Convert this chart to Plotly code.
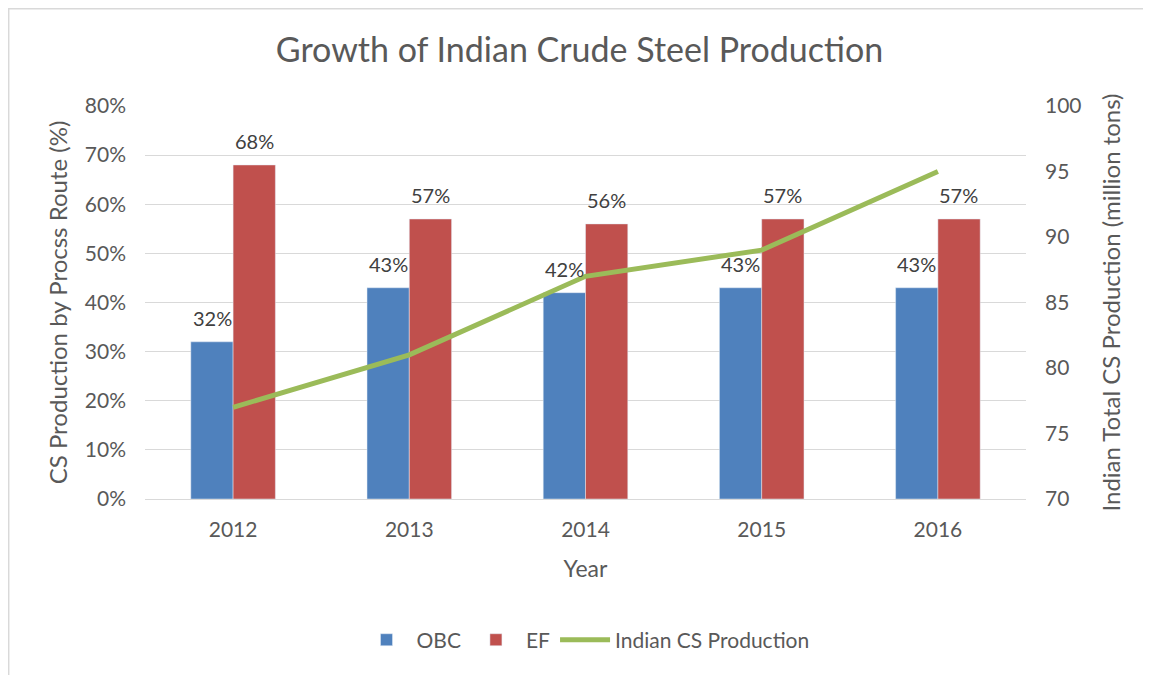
import plotly.graph_objects as go

years = ["2012", "2013", "2014", "2015", "2016"]
obc = [32, 43, 42, 43, 43]
ef = [68, 57, 56, 57, 57]
production = [77, 81, 87, 89, 95]

FONT = "Lato, Open Sans, sans-serif"
GREY = "#595959"

fig = go.Figure()
fig.add_trace(go.Bar(x=years, y=obc, name="OBC", marker=dict(color="#4f81bd"),
                     hoverinfo="skip"))
fig.add_trace(go.Bar(x=years, y=ef, name="EF", marker=dict(color="#c0504d"),
                     hoverinfo="skip"))
fig.add_trace(go.Scatter(x=years, y=production, name="Indian CS Production",
                         mode="lines", line=dict(color="#9bbb59", width=5),
                         yaxis="y2"))

annotations = []
for i, v in enumerate(obc):
    annotations.append(dict(x=i, y=v, xref="x", yref="y", text=f"{v}%", showarrow=False,
                            xshift=-21, yshift=24,
                            font=dict(size=20, color="#404040", family=FONT)))
for i, v in enumerate(ef):
    annotations.append(dict(x=i, y=v, xref="x", yref="y", text=f"{v}%", showarrow=False,
                            xshift=21, yshift=24,
                            font=dict(size=20, color="#404040", family=FONT)))

fig.update_layout(
    width=1143, height=667,
    margin=dict(l=137, r=125, t=98, b=176),
    paper_bgcolor="white", plot_bgcolor="white",
    font=dict(family=FONT, color=GREY),
    title=dict(text="Growth of Indian Crude Steel Production", x=0.5, xanchor="center",
               y=0.937, yanchor="middle", font=dict(size=34, color=GREY, family=FONT)),
    barmode="group", bargap=0.52, bargroupgap=0,
    xaxis=dict(type="category",
               title=dict(text="Year", font=dict(size=23, color=GREY), standoff=20),
               tickfont=dict(size=21, color=GREY), showgrid=False, ticklabelstandoff=12,
               showline=True, linecolor="#d9d9d9", linewidth=1, ticks=""),
    yaxis=dict(title=dict(text="CS Production by Procss Route (%)", font=dict(size=24, color=GREY), standoff=10),
               range=[0, 80], dtick=10, ticksuffix="%", tickfont=dict(size=21, color=GREY),
               ticklabelstandoff=18,
               showgrid=True, gridcolor="#d9d9d9", gridwidth=1, zeroline=False, ticks=""),
    yaxis2=dict(title=dict(text="Indian Total CS Production (million tons)", font=dict(size=24, color=GREY), standoff=22),
                range=[70, 100], dtick=5, overlaying="y", side="right", ticklabelstandoff=18,
                tickfont=dict(size=21, color=GREY), showgrid=False, zeroline=False, ticks=""),
    legend=dict(orientation="h", x=0.5, xanchor="center", y=-0.359, yanchor="middle",
                font=dict(size=21, color=GREY), traceorder="normal", itemwidth=50),
    annotations=annotations,
    shapes=[dict(type="rect", xref="paper", yref="paper", x0=-0.1547, x1=1.1339,
                 y0=-0.48, y1=1.2475, line=dict(color="#d9d9d9", width=1.5), layer="below")],
    showlegend=True,
)

fig.write_html("out.html")
